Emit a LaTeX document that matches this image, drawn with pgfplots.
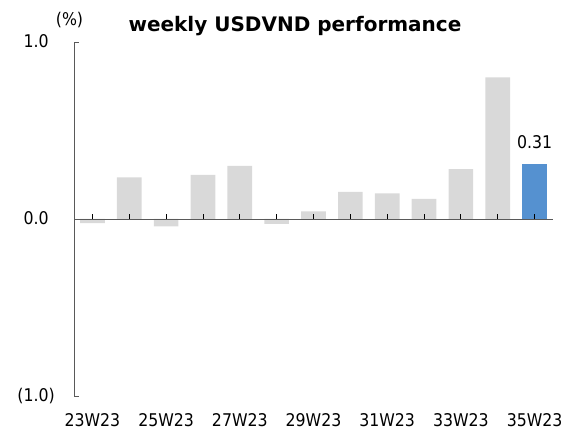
\documentclass[border=0pt]{standalone}
\usepackage{fontspec}
\setmainfont{DejaVu Sans Condensed}
\newfontfamily\titlefont{DejaVu Sans}
\usepackage{pgfplots}
\pgfplotsset{compat=1.18}
\definecolor{barg}{HTML}{D9D9D9}
\definecolor{barb}{HTML}{5591D0}
\definecolor{axg}{HTML}{595959}
\newcommand\lab{\fontsize{17.5bp}{21bp}\selectfont}

\pgfplotstableread{
x y
0 -0.024
1 0.235
2 -0.041
3 0.249
4 0.300
5 -0.028
6 0.043
7 0.153
8 0.145
9 0.113
10 0.282
11 0.800
}\weekly
\pgfplotstableread{
x y
12 0.31
}\latest

\begin{document}
\begin{tikzpicture}
\useasboundingbox (0,0) rectangle (565bp,432bp);
\begin{axis}[
  at={(74bp,36bp)}, anchor=south west,
  scale only axis, width=479bp, height=354bp,
  xmin=-0.5, xmax=12.5, ymin=-1, ymax=1,
  clip=false,
  ybar, bar width=0.67, bar shift=0pt,
  axis y line=left, axis x line=bottom,
  y axis line style={-, axg, line width=0.8bp},
  x axis line style={draw=none},
  xtick={0,...,12},
  xticklabels={23W23,,25W23,,27W23,,29W23,,31W23,,33W23,,35W23},
  x tick style={draw=none},
  xticklabel style={font=\lab, anchor=north, inner sep=0pt, yshift=-17bp},
  ytick={-1,0,1},
  yticklabels={(1.0),0.0\phantom{)},1.0\phantom{)}},
  yticklabel style={font=\lab, anchor=east, inner sep=0pt, xshift=-19bp},
  tick align=inside, major tick length=5bp,
  y tick style={axg, line width=0.8bp},
]
\addplot[fill=barg, draw=none] table[x=x,y=y] {\weekly};
\addplot[fill=barb, draw=none,
  nodes near coords={\pgfmathprintnumber[fixed,fixed zerofill,precision=2,assume math mode=true]{\pgfplotspointmeta}},
  nodes near coords style={font=\lab, anchor=south, inner sep=0pt, yshift=15bp, black}]
  table[x=x,y=y] {\latest};
\draw[axg, line width=0.8bp] (axis cs:-0.5,0) -- (axis cs:12.5,0);
\pgfplotsinvokeforeach{0,...,12}{\draw[black, line width=0.8bp] (axis cs:#1,0) -- ([yshift=5bp]axis cs:#1,0);}
\end{axis}
\node[font=\titlefont\bfseries\fontsize{20bp}{24bp}\selectfont, anchor=base, inner sep=0pt] at (295bp,400bp) {weekly USDVND performance};
\node[font=\lab, inner sep=0pt] at (69.5bp,412bp) {(\%)};
\end{tikzpicture}
\end{document}
